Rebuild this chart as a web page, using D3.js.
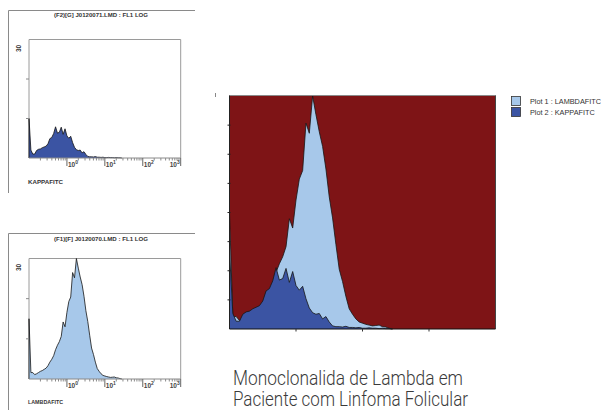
<!DOCTYPE html>
<html><head><meta charset="utf-8">
<script src="https://cdn.jsdelivr.net/npm/d3@7"></script>
<style>body{margin:0;background:#fff}svg{display:block}</style>
</head><body><svg id="c" width="601" height="410"></svg>
<script>
// ---- data ----
// bin positions on the FL1 log axis (log10 units)
const binLog = [-1,-0.95,-0.9,-0.85,-0.8,-0.75,-0.7,-0.65,-0.6,-0.55,-0.5,-0.45,-0.4,-0.35,-0.3,-0.25,-0.2,-0.15,-0.1,-0.05,
  0,0.05,0.1,0.15,0.2,0.25,0.3,0.35,0.4,0.45,0.5,0.55,0.6,0.65,0.7,0.75,0.8,0.85,0.9,0.95,
  1,1.05,1.1,1.15,1.2,1.25,1.3,1.35,1.4,1.45];
const lambdaCounts = [15,1.6,1.6,1.1,1.3,1.6,1.9,2.1,2.4,2.7,3.3,4.2,4.9,5.8,7.3,8.4,9.3,10.6,14.2,13.0,
  16.6,19.3,20.4,26.5,25.2,30.0,27.6,25.4,23.5,20.6,17.0,14.3,10.9,7.7,6.1,4.2,2.6,1.9,1.3,0.9,
  0.75,0.6,0.5,0.4,0.45,0.5,0.3,0.25,0.1,0];
const kappaCounts = [10,2.0,1.0,1.0,1.9,2.2,2.3,2.6,2.8,3.0,3.6,4.9,5.2,6.2,7.9,6.3,6.5,7.8,6.0,7.4,
  5.6,5.0,5.5,3.9,2.7,2.1,1.9,2.0,1.3,1.6,0.9,0.4,0.3,0.3,0.25,0.35,0.2,0.2,0.15,0.2,
  0.1,0.1,0.15,0.1,0.1,0.05,0.1,0.05,0.05,0];
const xDomain = [0.1, 1000];
const yMax = 30;
const majorTicks = [1, 10, 100, 1000];
const majorExp = ["0", "1", "2", "3"];
const smallYTicks = [10, 20, 30];
const mainYTicks = [3.75, 7.5, 11.25, 15, 18.75, 22.5, 26.25];
const mainXTicks = [1, 10, 100];
const panelTitles = ["(F2)[G] J0120071.LMD : FL1 LOG", "(F1)[F] J0120070.LMD : FL1 LOG"];
const panelAxisNames = ["KAPPAFITC", "LAMBDAFITC"];
const legendLabels = ["Plot 1 : LAMBDAFITC", "Plot 2 : KAPPAFITC"];
const captionLines = ["Monoclonalida de Lambda em", "Paciente com Linfoma Folicular"];

const C = {red:"#7E1416", light:"#A7C8EA", dark:"#3B54A3", line:"#151515"};
const svg = d3.select("#c");
const lambda = binLog.map((l,i)=>({x:Math.pow(10,l), c:lambdaCounts[i]}));
const kappa  = binLog.map((l,i)=>({x:Math.pow(10,l), c:kappaCounts[i]}));
const minorTicks = [];
[0.1,1,10,100].forEach(d=>{ for(let k=2;k<=9;k++) minorTicks.push(d*k); });

function drawSeries(g, data, x, y, fill){
  const area = d3.area().x(d=>x(d.x)).y0(y(0)).y1(d=>y(d.c));
  g.append("path").attr("d", area(data)).attr("fill", fill);
  const line = d3.line().x(d=>x(d.x)).y(d=>y(d.c));
  const pts = [{x:data[0].x, c:0}].concat(data);
  g.append("path").attr("d", line(pts)).attr("fill","none")
    .attr("stroke", C.line).attr("stroke-width", 0.8).attr("stroke-linejoin","round");
}

// ---- small panels ----
function panel(p){
  const g = svg.append("g");
  g.append("line").attr("x1",8.5).attr("x2",8.5).attr("y1",p.frameTop).attr("y2",p.frameBottom).attr("stroke","#8a8a8a");
  g.append("line").attr("x1",8.5).attr("x2",195).attr("y1",p.frameTop).attr("y2",p.frameTop).attr("stroke","#8a8a8a");
  g.append("text").attr("x",101).attr("y",p.titleY).attr("text-anchor","middle")
    .attr("font-family","Liberation Sans, Arial, sans-serif").attr("font-size",6).attr("font-weight","bold")
    .attr("fill","#333").attr("textLength",94).attr("lengthAdjust","spacingAndGlyphs").text(p.title);
  const x = d3.scaleLog().domain(xDomain).range([29, 180.7]);
  const y = d3.scaleLinear().domain([0,yMax]).range([p.bottom, p.top]);
  g.append("path").attr("d",`M${x(0.1)},${p.bottom}V${p.top}H${x(1000)}V${p.bottom}`)
    .attr("fill","none").attr("stroke","#9a9a9a");
  drawSeries(g, p.data, x, y, p.fill);
  g.append("line").attr("x1",x(0.1)).attr("x2",x(1000)).attr("y1",p.bottom).attr("y2",p.bottom).attr("stroke","#8a8a8a");
  g.selectAll(null).data(smallYTicks.slice(0,2)).join("line")
    .attr("x1",x(0.1)-3).attr("x2",x(0.1)).attr("y1",d=>y(d)).attr("y2",d=>y(d)).attr("stroke","#8a8a8a");
  g.append("text").attr("transform",`translate(20.5,${y(30)+9}) rotate(-90)`).attr("text-anchor","middle")
    .attr("font-family","Liberation Sans, Arial, sans-serif").attr("font-size",6.5).attr("font-weight","bold")
    .attr("fill","#333").text(smallYTicks[2]);
  g.selectAll(null).data(minorTicks).join("line")
    .attr("x1",d=>x(d)).attr("x2",d=>x(d)).attr("y1",p.bottom).attr("y2",p.bottom+2.5).attr("stroke","#8a8a8a");
  g.selectAll(null).data(majorTicks).join("line")
    .attr("x1",d=>x(d)).attr("x2",d=>x(d)).attr("y1",p.bottom).attr("y2",p.bottom+8).attr("stroke","#666");
  majorTicks.forEach((t,i)=>{
    const last = i===majorTicks.length-1;
    const tx = g.append("text").attr("x", last ? x(t)-1 : x(t)+1).attr("y",p.bottom+8.5)
      .attr("text-anchor", last ? "end" : "start")
      .attr("font-family","Liberation Sans, Arial, sans-serif").attr("font-size",6.5).attr("font-weight","bold").attr("fill","#444");
    tx.append("tspan").text("10");
    tx.append("tspan").attr("dy",-2.5).attr("font-size",5).text(majorExp[i]);
  });
  g.append("text").attr("x",28).attr("y",p.nameY)
    .attr("font-family","Liberation Sans, Arial, sans-serif").attr("font-size",6).attr("font-weight","bold")
    .attr("fill","#333").attr("textLength",35).attr("lengthAdjust","spacingAndGlyphs").text(p.name);
}
panel({frameTop:10.5, frameBottom:193, titleY:17, top:39.5, bottom:158, data:kappa, fill:C.dark,
       title:panelTitles[0], name:panelAxisNames[0], nameY:184});
panel({frameTop:233.5, frameBottom:410, titleY:240.5, top:258.5, bottom:379, data:lambda, fill:C.light,
       title:panelTitles[1], name:panelAxisNames[1], nameY:403.5});

// ---- main overlay plot ----
const mg = svg.append("g");
const mx = d3.scaleLog().domain(xDomain).range([229.5, 495.5]);
const my = d3.scaleLinear().domain([0,yMax]).range([329, 96]);
mg.append("rect").attr("x",mx(0.1)).attr("y",95.5).attr("width",mx(1000)-mx(0.1)).attr("height",329-95.5).attr("fill",C.red);
drawSeries(mg, lambda, mx, my, C.light);
drawSeries(mg, kappa, mx, my, C.dark);
mg.append("line").attr("x1",mx(0.1)).attr("x2",mx(1000)).attr("y1",95.5).attr("y2",95.5).attr("stroke","#8a8a8a");
mg.append("line").attr("x1",mx(1000)).attr("x2",mx(1000)).attr("y1",95.5).attr("y2",329).attr("stroke","#444");
mg.append("line").attr("x1",mx(0.1)).attr("x2",mx(0.1)).attr("y1",95.5).attr("y2",329).attr("stroke","#222");
mg.append("line").attr("x1",mx(0.1)).attr("x2",mx(1000)).attr("y1",329).attr("y2",329).attr("stroke","#111").attr("stroke-width",1.2);
mg.selectAll(null).data(mainYTicks).join("line")
  .attr("x1",mx(0.1)-2).attr("x2",mx(0.1)+1).attr("y1",d=>my(d)).attr("y2",d=>my(d)).attr("stroke","#222");
mg.selectAll(null).data(mainXTicks).join("line")
  .attr("x1",d=>mx(d)).attr("x2",d=>mx(d)).attr("y1",329).attr("y2",331.5).attr("stroke","#333");
mg.append("line").attr("x1",215.5).attr("x2",215.5).attr("y1",93).attr("y2",97).attr("stroke","#888");

// legend
const lg = svg.append("g");
[C.light, C.dark].forEach((c,i)=>{
  lg.append("rect").attr("x",511.5).attr("y",96.5+i*11).attr("width",9).attr("height",9)
    .attr("fill",c).attr("stroke","#333").attr("stroke-width",0.8);
  lg.append("text").attr("x",530).attr("y",104+i*11.3)
    .attr("font-family","Liberation Sans, Arial, sans-serif").attr("font-size",7.3).attr("fill","#333").text(legendLabels[i]);
});

// caption
captionLines.forEach((t,i)=>{
  svg.append("text").attr("x",233).attr("y",384.5+i*21.5)
    .attr("font-family","Roboto, Liberation Sans, sans-serif").attr("font-weight",300)
    .attr("font-size",19.5).attr("fill","#3a3a3a")
    .attr("textLength", i===0 ? 230 : 235).attr("lengthAdjust","spacingAndGlyphs").text(t);
});
</script></body></html>
